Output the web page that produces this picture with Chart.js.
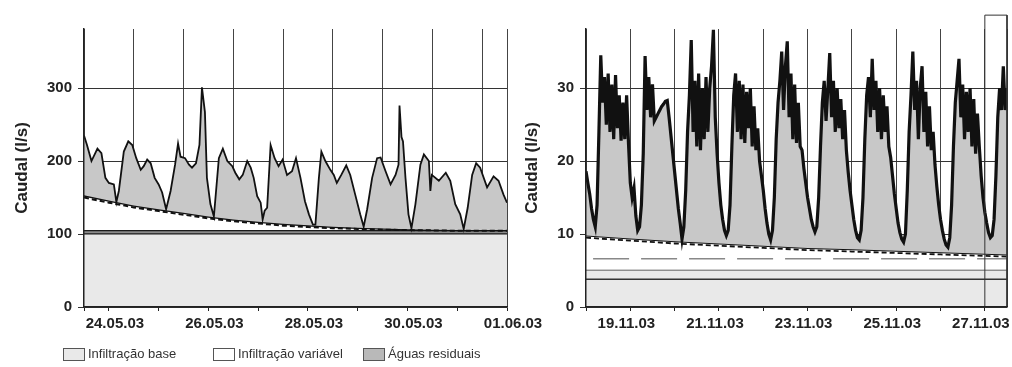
<!DOCTYPE html>
<html>
<head>
<meta charset="UTF-8">
<title>Caudal - infiltração e águas residuais</title>
<script src="https://cdn.jsdelivr.net/npm/chart.js"></script>
<style>
  body { margin: 0; background: #fff; width: 1012px; height: 367px; overflow: hidden; position: relative;
         font-family: "Liberation Sans", Arial, sans-serif; }
  .panel { position: absolute; top: 0; height: 367px; }
  #panelL { left: 0; width: 545px; }
  #panelR { left: 515px; width: 497px; }
  .leg { position: absolute; top: 346px; height: 16px; line-height: 16px; font-size: 13px; color: #333; white-space: nowrap; }
  .leg i { position: absolute; left: 0; top: 2px; width: 20px; height: 11px; border: 1px solid #555; }
  .leg span { position: absolute; left: 25px; top: 0; }
</style>
</head>
<body>
<div class="panel" id="panelL"><canvas id="chartL"></canvas></div>
<div class="panel" id="panelR"><canvas id="chartR"></canvas></div>

<div class="leg" style="left:63px"><i style="background:#e9e9e9"></i><span>Infiltração base</span></div>
<div class="leg" style="left:213px"><i style="background:#fff"></i><span>Infiltração variável</span></div>
<div class="leg" style="left:363px"><i style="background:#b9b9b9"></i><span>Águas residuais</span></div>

<script>
// ---- painel esquerdo: 23.05.03 12h .. 01.06.03 (dias desde 24.05.03 00h) ----
const tickDaysL = [-0.5, 0, 1, 2, 3, 4, 5, 6, 7, 8];
const gridDaysL = [-0.5, 0.5, 1.5, 2.5, 3.5, 4.5, 5.5, 6.5, 7.5, 8];
const labelDaysL = [0, 2, 4, 6, 8];
const labelsL = ['24.05.03', '26.05.03', '28.05.03', '30.05.03', '01.06.03'];

const baseDaysL = [-0.5, 8];
const baseL = [101, 101];
const base2L = [105.5, 105.5];

const varDaysL = [-0.5, 0, 0.5, 1, 1.5, 2, 2.5, 3, 3.5, 4, 4.5, 5, 5.5, 6, 6.5, 7, 7.5, 8];
const varL = [153, 146, 139, 134, 129, 124, 120, 117, 114, 112, 110, 108.5, 107.5, 106.5, 106, 105.5, 105.5, 105.5];
const var2L = [150, 143, 136.5, 131.5, 126.5, 121.5, 117.5, 114.5, 111.5, 109.5, 108, 107, 106, 105.5, 105, 104.5, 104.5, 104.5];

const flowDaysL = [-0.5, -0.44, -0.35, -0.23, -0.15, -0.07, 0, 0.1, 0.15, 0.2, 0.3, 0.39, 0.47, 0.55, 0.64, 0.7, 0.77, 0.84, 0.92,
  1.0, 1.07, 1.15, 1.24, 1.33, 1.39, 1.44, 1.53, 1.61, 1.67, 1.75, 1.82, 1.87, 1.93, 1.97,
  2.04, 2.11, 2.21, 2.29, 2.38, 2.48, 2.54, 2.62, 2.69, 2.78, 2.85, 2.91, 2.98,
  3.05, 3.09, 3.13, 3.18, 3.25, 3.33, 3.41, 3.49, 3.58, 3.68, 3.76, 3.85, 3.94,
  4.02, 4.1, 4.15, 4.22, 4.27, 4.35, 4.45, 4.52, 4.58, 4.67, 4.77, 4.85, 4.95,
  5.05, 5.12, 5.19, 5.29, 5.39, 5.46, 5.56, 5.66, 5.76, 5.82, 5.84, 5.88, 5.91, 5.96,
  6.02, 6.08, 6.16, 6.26, 6.33, 6.43, 6.46, 6.49, 6.63, 6.77, 6.86, 6.96,
  7.06, 7.13, 7.21, 7.3, 7.38, 7.46, 7.6, 7.73, 7.83, 7.93, 8];
const flowL = [235, 222, 200, 217, 211, 177, 170, 168, 144, 159, 213, 227, 222, 204, 188, 193, 202, 197, 177,
  168, 157, 134, 159, 195, 224, 206, 204, 195, 191, 197, 222, 301, 267, 177,
  141, 124, 204, 217, 200, 193, 184, 175, 181, 200, 191, 177, 152,
  143, 120, 132, 136, 222, 204, 193, 202, 181, 186, 204, 177, 145,
  127, 113, 113, 177, 213, 200, 188, 181, 170, 181, 194, 181, 154,
  127, 110, 134, 177, 204, 205, 186, 168, 181, 195, 276, 233, 227, 177,
  127, 108, 141, 195, 209, 200, 159, 181, 173, 184, 173, 141,
  127, 107, 136, 181, 197, 191, 164, 179, 173, 154, 143];

// ---- painel direito: 18.11.03 00h .. 27.11.03 12h (dias desde 18.11.03 00h) ----
const tickDaysR = [0, 1, 2, 3, 4, 5, 6, 7, 8, 9, 9.5];
const labelDaysR = [1, 3, 5, 7, 9];
const labelsR = ['19.11.03', '21.11.03', '23.11.03', '25.11.03', '27.11.03'];

const baseDaysR = [0, 9.5];
const baseR = [5.1, 5.1];
const lowLineR = [3.8, 3.8];
const dashDaysR = [0.16, 9.5];
const dashR = [6.6, 6.6];

const varDaysR = [0, 1, 2, 3, 4, 5, 6, 7, 8, 9, 9.5];
const varR = [9.8, 9.4, 9.0, 8.7, 8.4, 8.1, 7.9, 7.7, 7.5, 7.3, 7.2];
const var2R = [9.5, 9.1, 8.7, 8.4, 8.1, 7.8, 7.6, 7.4, 7.2, 7.0, 6.9];

const boxDaysR = [9, 9, 9.5, 9.5];
const boxR = [0, 40, 40, 0];

// caudal horário (l/s), uma linha por dia
const hourR = 1 / 24;
const flowR = [
  18.6, 17, 15.5, 13.5, 12, 11, 14, 24, 34.5, 28, 31.5, 25, 32, 24, 30.5, 23, 31.8, 24.5, 29, 22.8, 28, 23, 29, 22.5,
  17, 15, 16.3, 12.5, 10.5, 11, 14, 21, 34.4, 27, 31.5, 26, 30.5, 25.5, 26, 26.5, 27, 27.5, 27.8, 28.2, 28.3, 26, 23.5, 21,
  18.5, 16, 13.5, 11.5, 9.3, 11, 16, 24, 29, 36.6, 24, 31, 22, 32, 21.5, 30, 23, 31.5, 24, 30, 33, 38, 26, 21,
  17, 14, 12, 10.5, 9.8, 10.5, 14, 22, 29, 32, 24, 31, 23, 30.5, 22.5, 29.5, 24.5, 30, 22, 27.5, 21.5, 24.5, 20, 18,
  16, 13.5, 11.5, 10, 9.2, 10.5, 15, 23, 28, 31, 35, 27, 33, 36.4, 26, 32, 23, 30.5, 22.5, 28, 22, 21.5, 19, 17,
  15, 13.5, 12, 11, 10.3, 11, 15, 22, 28, 31, 25.5, 30, 34.8, 26, 31, 24, 30, 24.5, 28.5, 23, 27, 21.5, 18.5, 16,
  14, 12, 10.5, 9.5, 9.2, 10.5, 15, 23, 29, 31.5, 26, 34, 27, 31, 24, 30, 23, 29, 24, 27.5, 22, 20.5, 18, 15.5,
  13.5, 11.5, 10.2, 9.3, 8.9, 10, 16, 24, 29, 35, 27, 31, 23, 30, 33, 24, 29.5, 22, 27.5, 21.5, 24, 19.5, 16.5, 14,
  12, 10.5, 9.3, 8.5, 8.2, 9.5, 14, 22, 28, 31, 34, 26, 30.5, 23, 29.5, 24, 30, 22, 28.5, 21, 26.5, 22, 18, 15,
  13, 11.5, 10.2, 9.5, 9.8, 12, 18, 26, 30, 27, 33, 27, 30
];

const tickFont = { family: 'Liberation Sans', size: 15, weight: 'bold' };
const titleFont = { family: 'Liberation Sans', size: 17, weight: 'bold' };
const ink = '#222';

function pts(xs, ys) { return xs.map((x, i) => ({ x: x, y: ys[i] })); }
function labelFor(days, labels) {
  return function (v) { const i = days.indexOf(v); return i >= 0 ? labels[i] : ''; };
}
function line(label, data, extra) {
  return Object.assign({ label: label, data: data, pointRadius: 0, tension: 0, fill: false,
                         borderColor: ink, borderWidth: 1.5 }, extra);
}
function yAxis(max, step, width) {
  return {
    type: 'linear', min: 0, max: max,
    ticks: { stepSize: step, includeBounds: false, font: tickFont, color: ink, padding: 6 },
    grid: { color: '#333', lineWidth: 1, tickLength: 6 },
    border: { color: ink, width: 1.5, z: 1 },
    title: { display: true, text: 'Caudal (l/s)', font: titleFont, color: ink, padding: { top: 4, bottom: 14 } },
    afterFit: function (s) { s.width = width; }
  };
}
const baseOptions = {
  responsive: true, maintainAspectRatio: false, animation: false, events: [],
  plugins: { legend: { display: false }, tooltip: { enabled: false } }
};

// painel esquerdo
new Chart(document.getElementById('chartL'), {
  type: 'line',
  data: { datasets: [
    line('Infiltração base', pts(baseDaysL, baseL), { fill: 'origin', backgroundColor: '#e9e9e9', borderColor: '#1a1a1a', borderWidth: 2.5, order: 6 }),
    line('Infiltração base (limite)', pts(baseDaysL, base2L), { fill: '-1', backgroundColor: '#8a8a8a', borderColor: '#1a1a1a', borderWidth: 2.5, order: 5 }),
    line('Infiltração variável', pts(varDaysL, varL), { fill: '-1', backgroundColor: '#ffffff', borderColor: '#111', borderWidth: 2.5, order: 4 }),
    line('Águas residuais', pts(flowDaysL, flowL), { fill: '-1', backgroundColor: '#c8c8c8', borderColor: '#111', borderWidth: 1.8, order: 3 }),
    line('Infiltração variável (ajuste)', pts(varDaysL, var2L), { borderColor: '#111', borderWidth: 2, borderDash: [5, 3], order: 2 })
  ] },
  options: Object.assign({}, baseOptions, {
    layout: { padding: { left: 8, right: 38, top: 29, bottom: 30 } },
    scales: {
      x: {
        type: 'linear', min: -0.5, max: 8,
        afterBuildTicks: function (s) { s.ticks = tickDaysL.map(v => ({ value: v })); },
        ticks: { autoSkip: false, maxRotation: 0, font: tickFont, color: ink, padding: 4, labelOffset: 6,
                 callback: labelFor(labelDaysL, labelsL) },
        grid: { drawOnChartArea: false, tickLength: 4, color: ink },
        border: { color: ink, width: 1.5, z: 1 }
      },
      xg: {
        type: 'linear', position: 'top', min: -0.5, max: 8,
        afterBuildTicks: function (s) { s.ticks = gridDaysL.map(v => ({ value: v })); },
        ticks: { display: false },
        grid: { drawTicks: false, color: '#444', lineWidth: 1 },
        border: { display: false }
      },
      y: yAxis(381, 100, 76)
    }
  })
});

// painel direito
new Chart(document.getElementById('chartR'), {
  type: 'line',
  data: { datasets: [
    line('Infiltração base', pts(baseDaysR, baseR), { fill: 'origin', backgroundColor: '#e9e9e9', borderColor: '#333', order: 7 }),
    line('Infiltração variável', pts(varDaysR, varR), { fill: '-1', backgroundColor: '#ffffff', borderColor: '#111', borderWidth: 2, order: 6 }),
    line('Águas residuais', flowR.map((v, i) => ({ x: i * hourR, y: v })), { fill: '-1', backgroundColor: '#c8c8c8', borderColor: '#111', borderWidth: 3.2, order: 5 }),
    line('Infiltração variável (ajuste)', pts(varDaysR, var2R), { borderColor: '#111', borderWidth: 1.8, borderDash: [5, 3], order: 4 }),
    line('Infiltração base (mínimo)', pts(baseDaysR, lowLineR), { borderColor: '#333', order: 3 }),
    line('Infiltração média', pts(dashDaysR, dashR), { borderColor: '#888', borderWidth: 1.5, borderDash: [36, 12], order: 2 }),
    line('Fim', pts(boxDaysR, boxR), { borderColor: '#333', borderWidth: 1, clip: false, order: 1 })
  ] },
  options: Object.assign({}, baseOptions, {
    layout: { padding: { left: 3, right: 5, top: 29, bottom: 30 } },
    scales: {
      x: {
        type: 'linear', min: 0, max: 9.5,
        afterBuildTicks: function (s) { s.ticks = tickDaysR.map(v => ({ value: v })); },
        ticks: { autoSkip: false, maxRotation: 0, font: tickFont, color: ink, padding: 4, labelOffset: -4,
                 callback: labelFor(labelDaysR, labelsR) },
        grid: { color: '#444', lineWidth: 1, tickLength: 4,
                tickColor: ctx => (ctx.tick && ctx.tick.value === 9.5) ? 'rgba(0,0,0,0)' : ink },
        border: { color: ink, width: 1.5, z: 1 }
      },
      y: yAxis(38.1, 10, 68)
    }
  })
});
</script>
</body>
</html>
